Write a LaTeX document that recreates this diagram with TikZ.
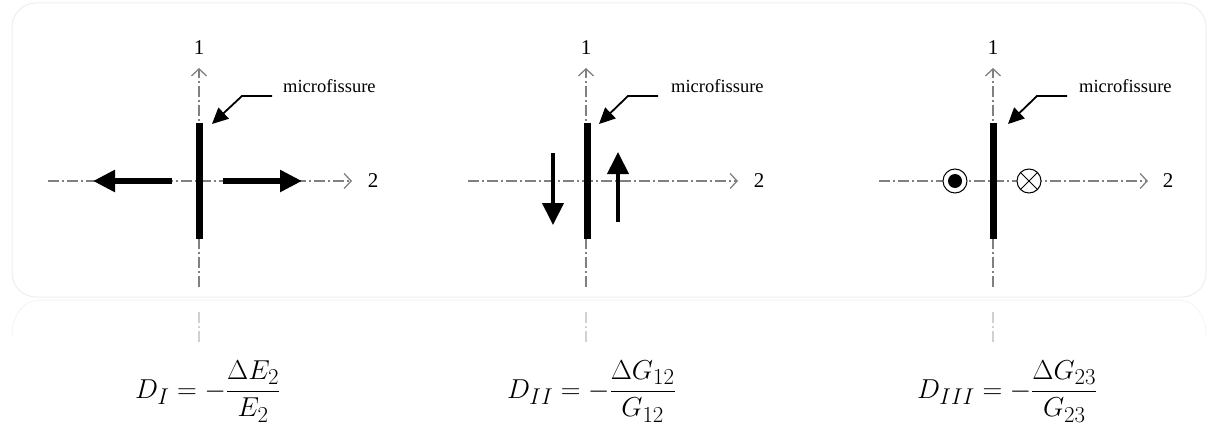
\documentclass[tikz,border=0pt]{standalone}
\usepackage{amsmath}
\usepackage{graphicx}
\usepackage{fontspec}
\setmainfont{Liberation Serif}
\definecolor{axisgray}{RGB}{128,128,128}
\definecolor{framegray}{RGB}{238,238,238}
\usetikzlibrary{arrows.meta,positioning}

\begin{document}
\begin{tikzpicture}[x=1pt, y=-1pt,
      axis/.style={axisgray, line width=1.4pt,
                   dash pattern=on 11pt off 3pt on 2pt off 3pt,
                   -{Straight Barb[length=7pt,width=15pt,line width=1.3pt]}},
      ghost/.style={black!18, line width=1.6pt,
                    dash pattern=on 11pt off 3pt on 2pt off 3pt},
      crack/.style={line width=7pt},
      force/.style={line width=5.5pt, -{Triangle[length=22pt,width=21pt]}},
      shear/.style={line width=4pt, -{Triangle[length=22pt,width=21pt]}},
      lead/.style={line width=1.8pt, -{Triangle[length=16pt,width=15pt]}},
      num/.style={font=\fontsize{21}{22}\selectfont, inner sep=0pt},
      tag/.style={font=\fontsize{18.5}{20}\selectfont, anchor=base west, inner sep=0pt},
      eq/.style={font=\fontsize{24.88}{30}\selectfont, anchor=base west, inner sep=0pt},
      ring/.style={circle, draw, fill=white, line width=1pt, minimum size=24pt, inner sep=0pt}]
    \useasboundingbox (0,0) rectangle (1218,433);
    % frame and its reflection
    \draw[framegray, line width=1pt, rounded corners=24pt] (12,3) rectangle (1206,297);
    \draw[black!4, line width=1pt] (12,335) to[out=90,in=180] (40,300) -- (1178,300) to[out=0,in=90] (1206,335);
    \draw[ghost] (199,312) -- (199,344);
    \draw[ghost] (586,312) -- (586,344);
    \draw[ghost] (993,312) -- (993,344);

    % panel I (opening)
    \coordinate (v1b) at (199,287);
    \coordinate (v1t) at (199,68);
    \coordinate (h1l) at (48,181);
    \coordinate (h1r) at (352,181);
    \draw[axis] (v1b) -- (v1t);
    \draw[axis] (h1l) -- (h1r);
    \node[num] (one1) at (199,48) {1};
    \node[num] (two1) at (373,181) {2};
    \coordinate (c1t) at (199.5,123);
    \coordinate (c1b) at (199.5,239);
    \draw[crack] (c1t) -- (c1b);
    \coordinate (a1l) at (172,181);
    \coordinate (p1l) at (93,181);
    \coordinate (a1r) at (223,181);
    \coordinate (p1r) at (302,181);
    \draw[force] (a1l) -- (p1l);
    \draw[force] (a1r) -- (p1r);
    \node[tag] (mf1) at (283,93) {microfissure};
    \coordinate (k1) at (272,96);
    \coordinate (f1) at (212,124);
    \draw[lead] (k1) -- ++(-30,0) -- (f1);

    % panel II (in-plane shear)
    \coordinate (v2b) at (586,287);
    \coordinate (v2t) at (586,68);
    \coordinate (h2l) at (468,181);
    \coordinate (h2r) at (738,181);
    \draw[axis] (v2b) -- (v2t);
    \draw[axis] (h2l) -- (h2r);
    \node[num] (one2) at (586,48) {1};
    \node[num] (two2) at (759,181) {2};
    \coordinate (c2t) at (587,123);
    \coordinate (c2b) at (587,239);
    \draw[crack] (c2t) -- (c2b);
    \coordinate (s2a) at (553,153);
    \coordinate (q2a) at (553,225);
    \coordinate (s2b) at (618,222);
    \coordinate (q2b) at (618,152);
    \draw[shear] (s2a) -- (q2a);
    \draw[shear] (s2b) -- (q2b);
    \node[tag] (mf2) at (671,93) {microfissure};
    \coordinate (k2) at (658,96);
    \coordinate (f2) at (599,124);
    \draw[lead] (k2) -- ++(-30,0) -- (f2);

    % panel III (out-of-plane shear)
    \coordinate (v3b) at (993,287);
    \coordinate (v3t) at (993,68);
    \coordinate (h3l) at (879,181);
    \coordinate (h3r) at (1148,181);
    \draw[axis] (v3b) -- (v3t);
    \draw[axis] (h3l) -- (h3r);
    \node[num] (one3) at (993,48) {1};
    \node[num] (two3) at (1168,181) {2};
    \coordinate (c3t) at (993,123);
    \coordinate (c3b) at (993,239);
    \draw[crack] (c3t) -- (c3b);
    \node[ring] (out3) at (955,181) {};
    \fill (out3.center) circle (7pt);
    \node[ring] (in3) at (1029,181) {};
    \draw[line width=1pt] (in3.north west) -- (in3.south east);
    \draw[line width=1pt] (in3.north east) -- (in3.south west);
    \node[tag] (mf3) at (1079,93) {microfissure};
    \coordinate (k3) at (1067,96);
    \coordinate (f3) at (1008,124);
    \draw[lead] (k3) -- ++(-30,0) -- (f3);

    % damage variables
    \node[eq] (eq1) at (135,398) {\scalebox{1.1}{$D_I = -\dfrac{\Delta E_2}{E_2}$}};
    \node[eq] (eq2) at (507,398) {\scalebox{1.1}{$D_{II} = -\dfrac{\Delta G_{12}}{G_{12}}$}};
    \node[eq] (eq3) at (917,398) {\scalebox{1.1}{$D_{III} = -\dfrac{\Delta G_{23}}{G_{23}}$}};
  \end{tikzpicture}
\end{document}
